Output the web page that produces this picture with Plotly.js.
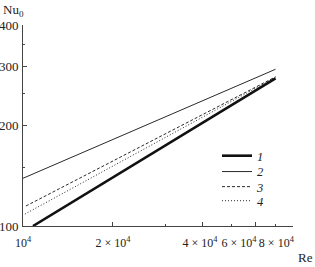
<!DOCTYPE html>
<html>
<head>
<meta charset="utf-8">
<script src="https://cdn.plot.ly/plotly-3.0.1.min.js"></script>
<style>html,body{margin:0;padding:0;background:#fff;}#plot{width:315px;height:267px;}</style>
</head>
<body>
<div id="plot"></div>
<script>
// Data (log-log straight lines, endpoints)
const re1 = [10800, 70000];
const nu1 = [100, 277];
const re2 = [10000, 70000];
const nu2 = [139, 295];
const re3 = [10230, 70000];
const nu3 = [114.8, 280];
const re4 = [10150, 70000];
const nu4 = [108.6, 279];
const names = ['1', '2', '3', '4'];
const S = '\u00a0';
const xTickVals = [10000, 20000, 40000, 60000, 80000];
const xTickText = ['10<sup>4</sup>', '2 × 10<sup>4</sup>', '4 × 10<sup>4</sup>' + S.repeat(2), '6 × 10<sup>4</sup>' + S.repeat(11), '8 × 10<sup>4</sup>' + S.repeat(11)];
const xMinor = [30000, 50000, 70000];
const yTickVals = [100, 200, 300, 400];
const yTickText = ['100', '200', '300', '400'];
const yMinor = [150, 250, 350];

const font = {family: 'Liberation Serif, Times New Roman, serif', size: 13, color: '#222'};
const xFont = {family: 'Liberation Serif, Times New Roman, serif', size: 12, color: '#222'};
const legFont = {family: 'Liberation Serif, serif', size: 12.5, color: '#222', style: 'italic'};
const traces = [
  {x: re1, y: nu1, name: names[0], legend: 'legend', mode: 'lines', line: {color: '#111', width: 2.6}},
  {x: re2, y: nu2, name: names[1], legend: 'legend2', mode: 'lines', line: {color: '#111', width: 0.9}},
  {x: re3, y: nu3, name: names[2], legend: 'legend3', mode: 'lines', line: {color: '#111', width: 0.9, dash: '3px,2px'}},
  {x: re4, y: nu4, name: names[3], legend: 'legend4', mode: 'lines', line: {color: '#111', width: 0.9, dash: '1px,2px'}}
];
const legendRowsY = [0.348, 0.269, 0.194, 0.124];
function leg(y) {
  return {x: 0.7185, y: y, xanchor: 'left', yanchor: 'middle', bgcolor: 'rgba(0,0,0,0)', font: legFont, tracegroupgap: 0};
}
const axisCommon = {showline: true, linecolor: '#444', linewidth: 1, ticks: 'inside', ticklen: 4, tickcolor: '#444', showgrid: false, zeroline: false, tickfont: font, tickangle: 0, ticklabeloverflow: 'allow'};
const layout = {
  width: 315, height: 267,
  margin: {l: 23, r: 22, t: 25, b: 41, pad: 0},
  paper_bgcolor: '#fff', plot_bgcolor: '#fff',
  font: font,
  showlegend: true,
  legend: leg(legendRowsY[0]),
  legend2: leg(legendRowsY[1]),
  legend3: leg(legendRowsY[2]),
  legend4: leg(legendRowsY[3]),
  xaxis: Object.assign({}, axisCommon, {type: 'log', range: [4, Math.log10(80000) + 0.0005], tickmode: 'array', tickvals: xTickVals, ticktext: xTickText, ticklabelstandoff: 6, tickfont: xFont,
    minor: {tickvals: xMinor, ticks: 'inside', ticklen: 2, tickcolor: '#444'}}),
  yaxis: Object.assign({}, axisCommon, {type: 'log', range: [2, Math.log10(400) + 0.0005], tickmode: 'array', tickvals: yTickVals, ticktext: yTickText, ticklabelstandoff: 1,
    minor: {tickvals: yMinor, ticks: 'inside', ticklen: 2, tickcolor: '#444'}}),
  annotations: [
    {text: 'Nu<sub>0</sub>', xref: 'paper', yref: 'paper', x: -0.08, y: 1.07, xanchor: 'left', yanchor: 'middle', showarrow: false, font: font},
    {text: 'Re', xref: 'paper', yref: 'paper', x: 1.08, y: -0.155, xanchor: 'right', yanchor: 'middle', showarrow: false, font: font}
  ]
};
Plotly.newPlot('plot', traces, layout, {displayModeBar: false, staticPlot: true});
</script>
</body>
</html>
